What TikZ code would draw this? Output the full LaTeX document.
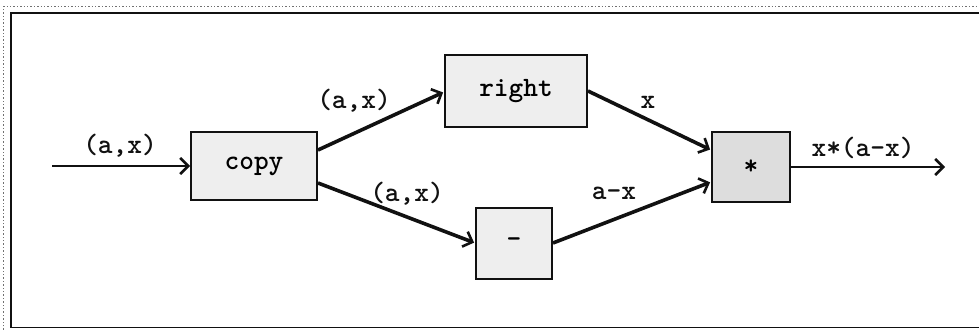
\documentclass[tikz,border=0pt]{standalone}
\usepackage{fontspec}
\usetikzlibrary{positioning, arrows.meta}
\definecolor{Ink}{HTML}{111111}
\definecolor{Stipple}{HTML}{EEEEEE}
\definecolor{StippleDark}{HTML}{DDDDDD}
\tikzset{
    opbox/.style={rectangle, draw=Ink, line width=2pt, fill=Stipple, inner sep=0pt, font=\ttfamily\bfseries\fontsize{28}{30}\selectfont},
    wirelabel/.style={font=\ttfamily\bfseries\fontsize{28}{30}\selectfont, text=Ink, inner sep=1pt},
    wire/.style={-{Straight Barb[length=8pt,width=16pt,line width=2.6pt]}, line width=3.6pt, color=Ink, shorten >=1pt},
    thinwire/.style={-{Straight Barb[length=8pt,width=16pt,line width=2.6pt]}, line width=2pt, color=Ink},
}
\begin{document}
\begin{tikzpicture}[x=1pt, y=-1pt]
    \useasboundingbox (0,0) rectangle (979,331);
    \begin{scope}
        \clip (0,0) rectangle (979,331);
        % frames
        \draw[Ink!60, line width=1.4pt, dotted] (3.5,340) -- (3.5,6.5) -- (990,6.5);
        \draw[Ink, line width=1.8pt] (990,13) -- (11,13) -- (11,327.5) -- (990,327.5);
    \end{scope}

    % operators
    \node[opbox, minimum width=126pt, minimum height=68pt] (copy) at (254,166) {copy};
    \node[opbox, minimum width=142pt, minimum height=72pt] (right) at (516,91) {right};
    \node[opbox, minimum width=76pt, minimum height=71pt] (minus) at (514,243) {-};
    \node[opbox, fill=StippleDark, minimum width=78pt, minimum height=69pt] (mult) at (751,167) {*};

    % free ends
    \coordinate (in) at (52,166);
    \coordinate (out) at (945,167);

    % wires
    \draw[thinwire] (in) -- (copy.west);
    \draw[wire] ([yshift=16pt]copy.east) -- ([yshift=-1pt]right.west);
    \draw[wire] ([yshift=-17pt]copy.east) -- (minus.west);
    \draw[wire] (right.east) -- ([yshift=17pt]mult.west);
    \draw[wire] (minus.east) -- ([yshift=-15pt]mult.west);
    \draw[thinwire] (mult.east) -- (out);

    % labels
    \node[wirelabel] (lin) at (120,146) {(a,x)};
    \node[wirelabel] (lup) at (354,101) {(a,x)};
    \node[wirelabel] (llow) at (407,194) {(a,x)};
    \node[wirelabel] (lx) at (648,102) {x};
    \node[wirelabel] (lax) at (614,193) {a-x};
    \node[wirelabel] (lout) at (863,148) {x*(a-x)};
\end{tikzpicture}
\end{document}
